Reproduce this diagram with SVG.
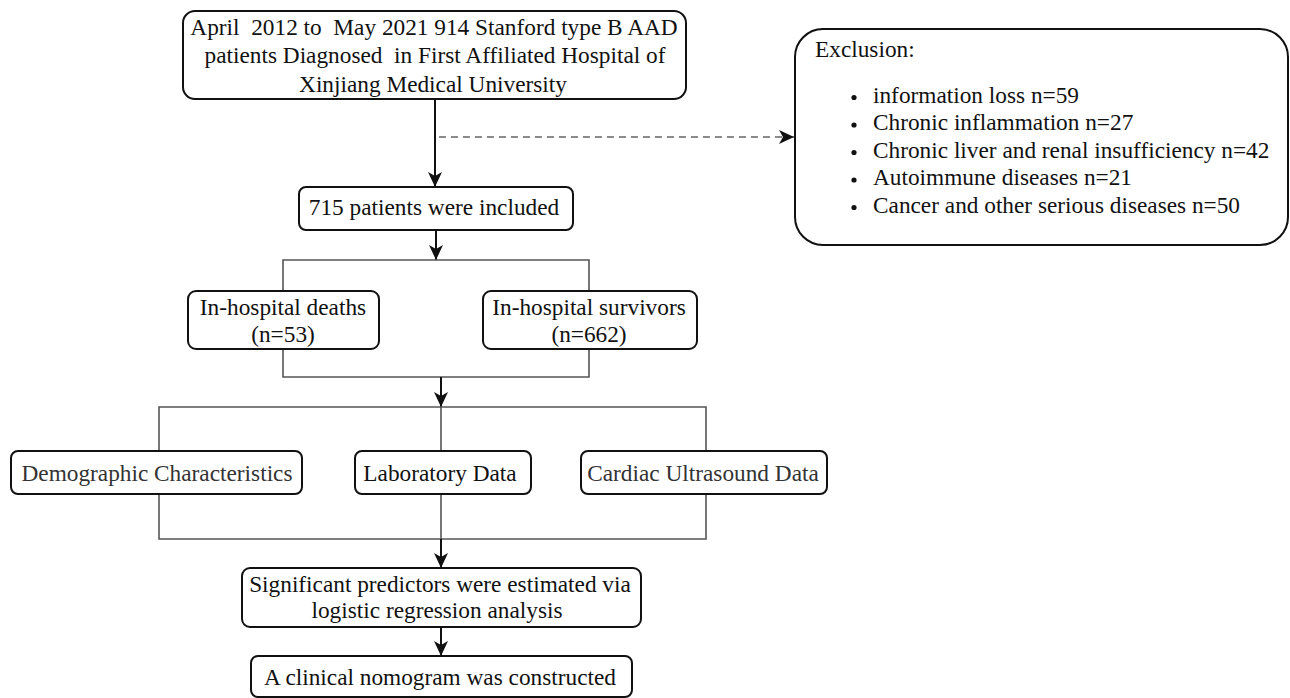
<svg xmlns="http://www.w3.org/2000/svg" width="1290" height="698" viewBox="0 0 1290 698">
<style>
.box{fill:#fff;stroke:#111;stroke-width:2}
.t{font-family:"Liberation Serif","Times New Roman",serif;font-size:23.3px;fill:#111;text-anchor:middle;white-space:pre}
.tl{font-family:"Liberation Serif","Times New Roman",serif;font-size:23.3px;fill:#111;white-space:pre}
.g{fill:#333}
.arr{stroke:#111;stroke-width:2;fill:none}
.br{stroke:#555;stroke-width:1.6;fill:none}
.dash{stroke:#666;stroke-width:1.6;fill:none;stroke-dasharray:7 5}
</style>
<defs>
<marker id="ah" viewBox="0 0 15 14" refX="15" refY="7" markerWidth="15" markerHeight="14" markerUnits="userSpaceOnUse" orient="auto">
<path d="M0,0 L15,7 L0,14 L4,7 z" fill="#111"/>
</marker>
</defs>
<rect width="1290" height="698" fill="#fff"/>
<g id="connectors">
<line class="arr" x1="435" y1="99" x2="435" y2="187" marker-end="url(#ah)"/>
<line class="dash" x1="439" y1="137" x2="794" y2="137" marker-end="url(#ah)"/>
<line class="arr" x1="436" y1="230" x2="436" y2="260" marker-end="url(#ah)"/>
<polyline class="br" points="283,291 283,260 589,260 589,291"/>
<polyline class="br" points="283,349 283,377 589,377 589,349"/>
<line class="arr" x1="441" y1="377" x2="441" y2="407" marker-end="url(#ah)"/>
<polyline class="br" points="159,451 159,407 706,407 706,451"/>
<line class="br" x1="441" y1="407" x2="441" y2="451"/>
<polyline class="br" points="159,494 159,539 706,539 706,494"/>
<line class="br" x1="441" y1="494" x2="441" y2="539"/>
<line class="arr" x1="441" y1="539" x2="441" y2="568" marker-end="url(#ah)"/>
<line class="arr" x1="441" y1="627" x2="441" y2="656" marker-end="url(#ah)"/>
</g>
<g id="n-source">
<rect class="box" x="183" y="11" width="503" height="88" rx="12"/>
<text class="t" x="434" y="35" xml:space="preserve">April  2012 to  May 2021 914 Stanford type B AAD</text>
<text class="t" x="435" y="63" xml:space="preserve">patients Diagnosed  in First Affiliated Hospital of</text>
<text class="t" x="433" y="91.5">Xinjiang Medical University</text>
</g>
<g id="n-included">
<rect class="box" x="299" y="187" width="274" height="43" rx="7"/>
<text class="t" x="434" y="215">715 patients were included</text>
</g>
<g id="n-exclusion">
<rect class="box" x="795" y="29" width="493" height="216" rx="28"/>
<text class="tl" x="815" y="57">Exclusion:</text>
<circle cx="854" cy="97.5" r="2.6" fill="#111"/>
<text class="tl" x="873" y="102.5">information loss n=59</text>
<circle cx="854" cy="125" r="2.6" fill="#111"/>
<text class="tl" x="873" y="130">Chronic inflammation n=27</text>
<circle cx="854" cy="152.5" r="2.6" fill="#111"/>
<text class="tl" x="873" y="157.5">Chronic liver and renal insufficiency n=42</text>
<circle cx="854" cy="180" r="2.6" fill="#111"/>
<text class="tl" x="873" y="185">Autoimmune diseases n=21</text>
<circle cx="854" cy="207.5" r="2.6" fill="#111"/>
<text class="tl" x="873" y="212.5">Cancer and other serious diseases n=50</text>
</g>
<g id="n-deaths">
<rect class="box" x="188" y="291" width="191" height="58" rx="8"/>
<text class="t" x="283" y="315">In-hospital deaths</text>
<text class="t" x="283" y="342">(n=53)</text>
</g>
<g id="n-survivors">
<rect class="box" x="483" y="291" width="214" height="58" rx="8"/>
<text class="t" x="589" y="315">In-hospital survivors</text>
<text class="t" x="589" y="342">(n=662)</text>
</g>
<g id="n-demographic">
<rect class="box" x="11" y="451" width="291" height="43" rx="7"/>
<text class="t g" x="157" y="481">Demographic Characteristics</text>
</g>
<g id="n-laboratory">
<rect class="box" x="355" y="451" width="176" height="43" rx="7"/>
<text class="t" x="440" y="481">Laboratory Data</text>
</g>
<g id="n-cardiac">
<rect class="box" x="581" y="451" width="246" height="43" rx="7"/>
<text class="t g" x="703" y="481">Cardiac Ultrasound Data</text>
</g>
<g id="n-predictors">
<rect class="box" x="242" y="568" width="399" height="59" rx="8"/>
<text class="t" x="440" y="592">Significant predictors were estimated via</text>
<text class="t" x="437" y="618">logistic regression analysis</text>
</g>
<g id="n-nomogram">
<rect class="box" x="251" y="656" width="381" height="41" rx="7"/>
<text class="t" x="440" y="685">A clinical nomogram was constructed</text>
</g>
</svg>
